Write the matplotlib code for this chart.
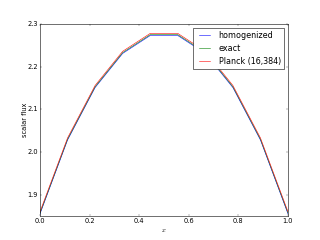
import matplotlib
matplotlib.use('Agg')
import matplotlib.pyplot as plt
import numpy as np

plt.style.use('classic')

# cell centres / nodes
x = np.linspace(0.0, 1.0, 10)
homogenized = [1.855, 2.028, 2.151, 2.231, 2.273, 2.273, 2.231, 2.151, 2.028, 1.855]
exact = [1.857, 2.030, 2.153, 2.233, 2.275, 2.275, 2.233, 2.153, 2.030, 1.857]
planck = [1.860, 2.033, 2.156, 2.236, 2.278, 2.278, 2.236, 2.156, 2.033, 1.860]

fig = plt.figure(figsize=(8, 6), dpi=40)
plt.plot(x, homogenized, 'b', label='homogenized')
plt.plot(x, exact, 'g', label='exact')
plt.plot(x, planck, 'r', label='Planck (16,384)')
plt.xlim(0.0, 1.0)
plt.ylim(1.85, 2.3)
plt.yticks([1.9, 2.0, 2.1, 2.2, 2.3])
plt.xlabel('$x$')
plt.ylabel('scalar flux', labelpad=-2)
plt.legend(loc='upper right')
plt.savefig('out.png', dpi=40)
